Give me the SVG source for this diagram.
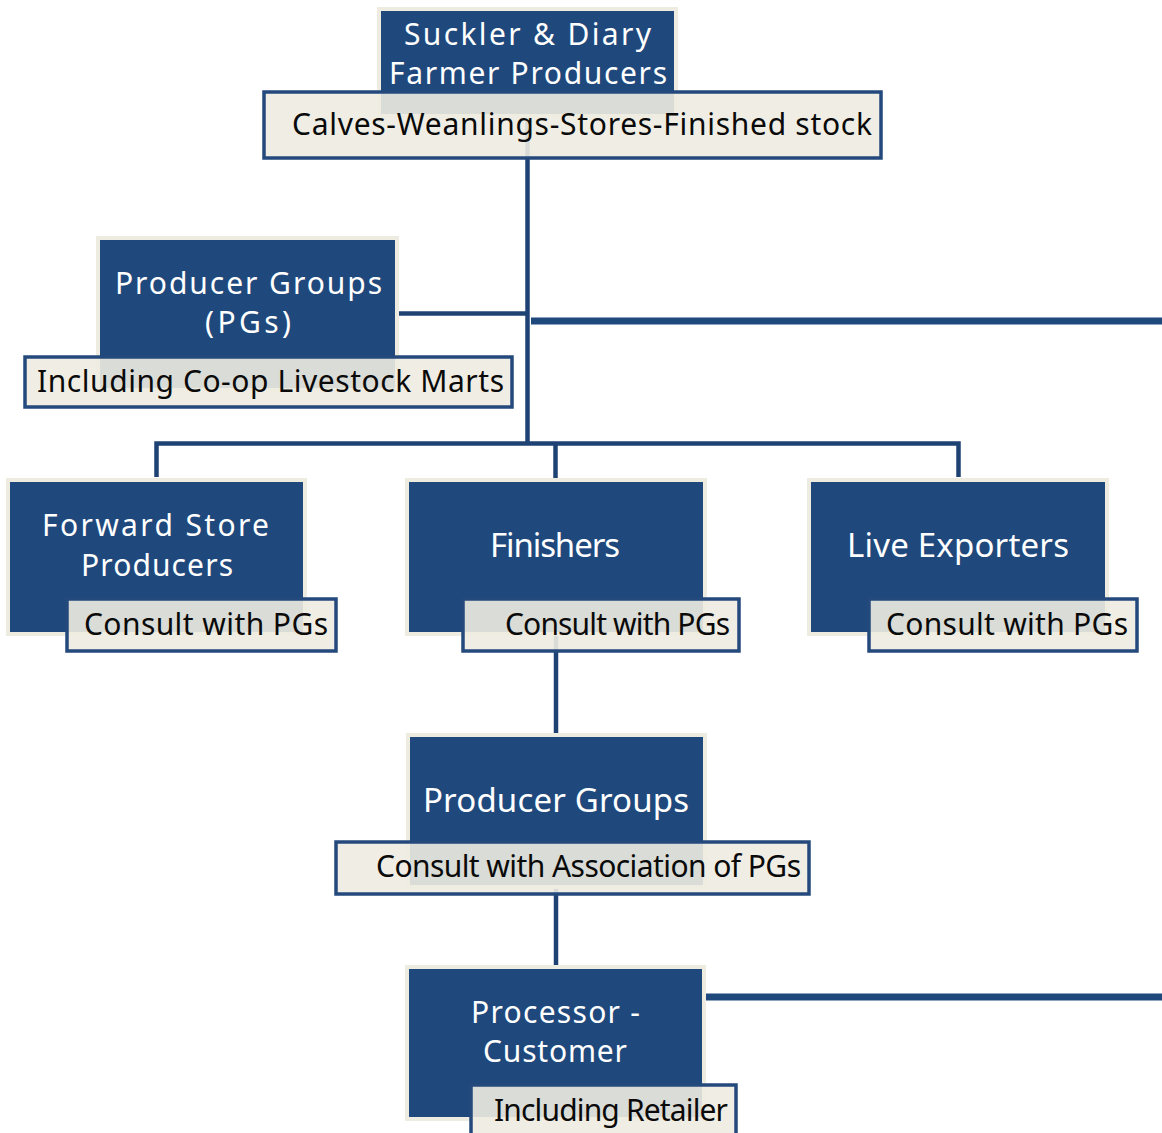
<svg xmlns="http://www.w3.org/2000/svg" width="1162" height="1133" viewBox="0 0 1162 1133">
<style>
.bg{fill:#ffffff}
.box{fill:#1F497D;stroke:#EEECE1;stroke-width:4}
.sub{fill:#EEECE1;fill-opacity:0.9;stroke:#24497C;stroke-width:3.5}
.t{font-family:"Noto Sans","Open Sans","Liberation Sans",sans-serif;fill:#ffffff;font-size:33px}
.t2{font-family:"Noto Sans","Open Sans","Liberation Sans",sans-serif;fill:#ffffff;font-size:30px}
.s{font-family:"Noto Sans","Open Sans","Liberation Sans",sans-serif;fill:#0A0A0A;font-size:30px}
.ln{fill:none;stroke:#1F4274;stroke-width:4.5}
.thick{fill:none;stroke:#1F497D;stroke-width:7}
</style>
<rect class="bg" x="0" y="0" width="1162" height="1133"/>
<g id="connectors">
<path class="ln" d="M527.5,116 V443.5"/>
<path class="ln" d="M156.5,477 V443.5 H958.5 V477"/>
<path class="ln" d="M555.5,443.5 V478"/>
<path class="ln" d="M399,313.5 H527.5"/>
<path class="thick" d="M531,321 H1162"/>
<path class="ln" d="M556,632 V735"/>
<path class="ln" d="M556,887 V965"/>
<path class="thick" d="M706,997 H1162"/>
</g>
<g id="node-suckler">
<rect class="box" x="379" y="9" width="297" height="107"/>
<text class="t2" x="404" y="45" textLength="247">Suckler &amp; Diary</text>
<text class="t2" x="389" y="84" textLength="278">Farmer Producers</text>
<rect class="sub" x="264" y="92" width="617" height="66"/>
<text class="s" x="292" y="135" textLength="580" font-size="31">Calves-Weanlings-Stores-Finished stock</text>
</g>
<g id="node-pgs">
<rect class="box" x="98" y="238" width="299" height="152"/>
<text class="t2" x="115" y="294" textLength="267">Producer Groups</text>
<text class="t2" x="205" y="333" textLength="86">(PGs)</text>
<rect class="sub" x="25" y="357" width="487" height="50"/>
<text class="s" x="37" y="392" textLength="467">Including Co-op Livestock Marts</text>
</g>
<g id="node-forward">
<rect class="box" x="8" y="480" width="297" height="154"/>
<text class="t2" x="42" y="536" textLength="227">Forward Store</text>
<text class="t2" x="81" y="576" textLength="152">Producers</text>
<rect class="sub" x="67" y="599" width="269" height="52"/>
<text class="s" x="84" y="635" textLength="244">Consult with PGs</text>
</g>
<g id="node-finishers">
<rect class="box" x="407" y="480" width="298" height="154"/>
<text class="t" x="490" y="557" textLength="130">Finishers</text>
<rect class="sub" x="463" y="599" width="276" height="52"/>
<text class="s" x="505" y="635" textLength="225" font-size="28">Consult with PGs</text>
</g>
<g id="node-live">
<rect class="box" x="809" y="480" width="298" height="154"/>
<text class="t" x="847" y="557" textLength="222">Live Exporters</text>
<rect class="sub" x="869" y="599" width="268" height="52"/>
<text class="s" x="886" y="635" textLength="242">Consult with PGs</text>
</g>
<g id="node-pg2">
<rect class="box" x="408" y="735" width="297" height="152"/>
<text class="t" x="423" y="812" textLength="266">Producer Groups</text>
<rect class="sub" x="336" y="842" width="473" height="52"/>
<text class="s" x="376" y="877" textLength="425">Consult with Association of PGs</text>
</g>
<g id="node-processor">
<rect class="box" x="407" y="967" width="297" height="152"/>
<text class="t2" x="471" y="1023" textLength="169">Processor -</text>
<text class="t2" x="483" y="1062" textLength="144">Customer</text>
<rect class="sub" x="471" y="1085" width="265" height="60"/>
<text class="s" x="494" y="1121" textLength="234">Including Retailer</text>
</g>
</svg>
